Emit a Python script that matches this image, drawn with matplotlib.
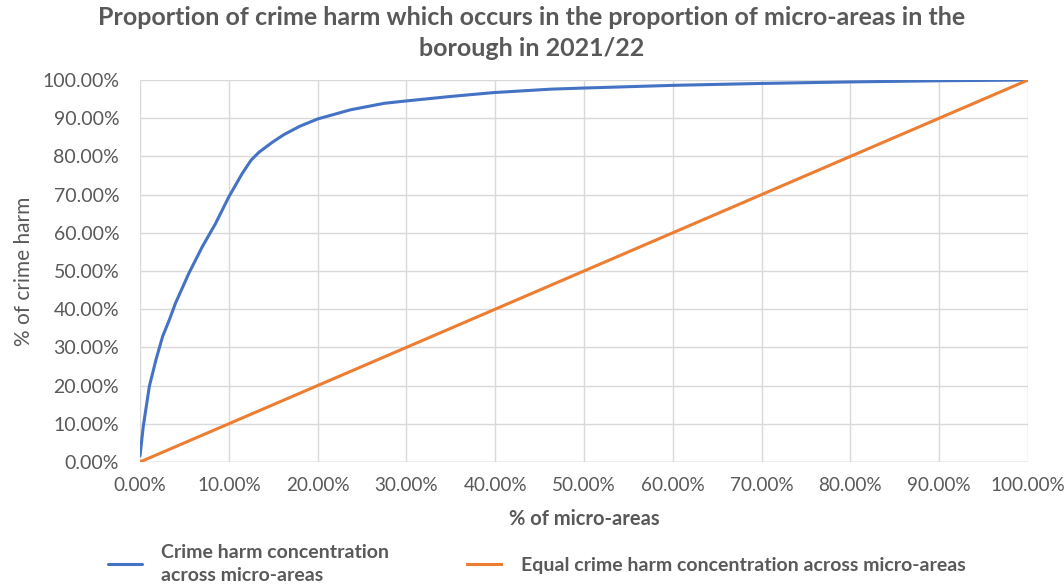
import numpy as np
import matplotlib
matplotlib.use("Agg")
import matplotlib.pyplot as plt
from matplotlib.ticker import FuncFormatter

# % of micro-areas vs % of crime harm
areas_pct = [0.0, 0.37, 1.05, 1.8, 2.55, 3.3, 4.0, 5.5, 7.0, 8.5, 10.0, 11.5, 12.5,
             13.4, 14.9, 16.2, 18.0, 20.0, 23.7, 27.5, 29.9, 35.0, 39.8, 46.2,
             50.0, 60.0, 70.0, 80.0, 90.0, 100.0]
harm_pct = [1.6, 9.4, 19.8, 26.8, 32.9, 37.2, 41.6, 49.4, 56.3, 62.4, 69.4, 75.5, 79.0,
            81.1, 83.7, 85.7, 87.9, 89.8, 92.2, 93.9, 94.5, 95.7, 96.7, 97.6,
            97.9, 98.6, 99.1, 99.5, 99.8, 100.0]
equal_x = [0.0, 100.0]
equal_y = [0.0, 100.0]

title = "Proportion of crime harm which occurs in the proportion of micro-areas in the\nborough in 2021/22"
series_names = ["Crime harm concentration\nacross micro-areas",
                "Equal crime harm concentration across micro-areas"]

plt.rcParams['font.family'] = ['Lato', 'DejaVu Sans']
grey = "#595959"

fig = plt.figure(figsize=(10.64, 5.84), dpi=100)
ax = fig.add_axes([0.1316, 0.209, 0.8346, 0.654])

l1, = ax.plot(areas_pct, harm_pct, color="#4472c4", lw=2.2, solid_capstyle='round',
              solid_joinstyle='round')
l2, = ax.plot(equal_x, equal_y, color="#ed7d31", lw=2.2)

ax.set_xlim(0, 100)
ax.set_ylim(0, 100)
ax.set_xticks(np.arange(0, 101, 10))
ax.set_yticks(np.arange(0, 101, 10))
fmt = FuncFormatter(lambda v, p: f"{v:.2f}%")
ax.xaxis.set_major_formatter(fmt)
ax.yaxis.set_major_formatter(fmt)
ax.tick_params(length=0, labelsize=14, colors=grey)
ax.tick_params(axis='x', pad=11, labelsize=13.6)
ax.tick_params(axis='y', pad=15)
ax.grid(True, color="#d9d9d9", lw=1)
ax.set_axisbelow(True)
for s in ax.spines.values():
    s.set_visible(False)
ax.axhline(0, color="#bfbfbf", lw=1, zorder=1)

ax.set_xlabel("% of micro-areas", fontsize=14.5, color=grey, fontweight='bold', labelpad=11)
ax.set_ylabel("% of crime harm", fontsize=15, color=grey, labelpad=6)
fig.suptitle(title, fontsize=18, fontweight='bold', color=grey, y=0.99, linespacing=1.45)

leg = fig.legend([l1, l2], series_names, loc='lower left', bbox_to_anchor=(0.1015, 0.0),
                 ncol=2, frameon=False, fontsize=14, handlelength=1.75, columnspacing=4,
                 handletextpad=1.0, borderaxespad=0, borderpad=0)
for t in leg.get_texts():
    t.set_color(grey)
    t.set_fontweight('bold')
    t.set_linespacing(1.45)

fig.savefig("out.png", dpi=100)
